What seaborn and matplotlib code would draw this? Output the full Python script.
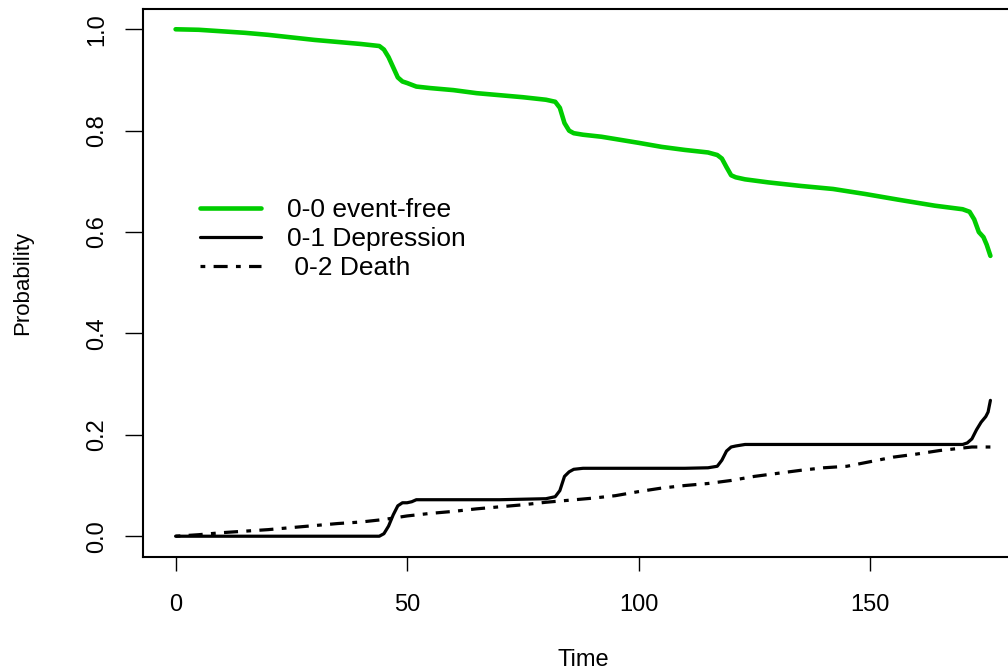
import matplotlib
matplotlib.use("Agg")
import matplotlib.pyplot as plt
import seaborn as sns
import pandas as pd
from matplotlib.lines import Line2D

# Transition probabilities from state 0 of an illness-death model
time_00 = [0, 5, 10, 15, 20, 25, 30, 35, 40, 44, 45, 46, 47, 48, 49, 50, 52, 55, 60, 65,
           70, 75, 80, 82, 83, 84, 85, 86, 88, 92, 96, 100, 105, 110, 115, 117, 118, 119,
           120, 121, 123, 128, 135, 142, 149, 156, 164, 170, 171.5, 172.5, 173.5, 174.5,
           175.2, 176]
prob_00 = [1.0, 0.999, 0.996, 0.993, 0.989, 0.984, 0.979, 0.975, 0.971, 0.967, 0.960, 0.945,
           0.925, 0.905, 0.897, 0.894, 0.887, 0.884, 0.880, 0.874, 0.870, 0.866, 0.861, 0.857,
           0.845, 0.815, 0.800, 0.795, 0.792, 0.788, 0.782, 0.776, 0.768, 0.762, 0.757, 0.752,
           0.745, 0.728, 0.712, 0.708, 0.704, 0.698, 0.691, 0.685, 0.675, 0.664, 0.652, 0.645,
           0.640, 0.625, 0.600, 0.590, 0.575, 0.553]

time_01 = [0, 44, 45, 46, 47, 48, 49, 50, 51, 52, 60, 70, 80, 82, 83, 84, 85, 86, 88, 100,
           110, 115, 117, 118, 119, 120, 121, 123, 130, 140, 150, 160, 170, 171, 172, 173,
           174, 175, 175.5, 176]
prob_01 = [0.0, 0.0, 0.005, 0.020, 0.042, 0.060, 0.066, 0.066, 0.068, 0.072, 0.072, 0.072,
           0.074, 0.078, 0.090, 0.118, 0.127, 0.132, 0.134, 0.134, 0.134, 0.135, 0.138, 0.150,
           0.168, 0.176, 0.178, 0.181, 0.181, 0.181, 0.181, 0.181, 0.181, 0.184, 0.192, 0.210,
           0.225, 0.236, 0.245, 0.268]

time_02 = [0, 5, 10, 15, 20, 25, 30, 35, 40, 45, 50, 55, 60, 65, 70, 75, 80, 85, 90, 95,
           100, 105, 110, 115, 120, 125, 130, 135, 140, 145, 150, 155, 160, 165, 170, 172, 176]
prob_02 = [0.0, 0.003, 0.007, 0.010, 0.013, 0.017, 0.021, 0.025, 0.028, 0.033, 0.040, 0.045,
           0.049, 0.054, 0.058, 0.062, 0.067, 0.071, 0.075, 0.080, 0.088, 0.095, 0.100, 0.104,
           0.110, 0.118, 0.124, 0.130, 0.135, 0.138, 0.147, 0.156, 0.162, 0.169, 0.174, 0.176,
           0.176]

labels = ["0-0 event-free", "0-1 Depression", " 0-2 Death"]
x_ticks = [0, 50, 100, 150]
y_ticks = [0.0, 0.2, 0.4, 0.6, 0.8, 1.0]
y_tick_labels = ["0.0", "0.2", "0.4", "0.6", "0.8", "1.0"]

sns.set_theme(style="ticks")
plt.rcParams["font.family"] = ["Liberation Sans", "DejaVu Sans"]
plt.rcParams["text.color"] = "black"
plt.rcParams["axes.labelcolor"] = "black"

df00 = pd.DataFrame({"Time": time_00, "Probability": prob_00})
df01 = pd.DataFrame({"Time": time_01, "Probability": prob_01})
df02 = pd.DataFrame({"Time": time_02, "Probability": prob_02})

fig = plt.figure(figsize=(10.08, 6.70), dpi=100)
ax = fig.add_axes([143 / 1008, 113.5 / 670, 880 / 1008, 547.5 / 670])

green = "#00cd00"
death_dashes = (1.5, 2.6, 4.4, 2.6)
sns.lineplot(data=df00, x="Time", y="Probability", ax=ax, color=green, lw=3.3,
             estimator=None, sort=False)
sns.lineplot(data=df01, x="Time", y="Probability", ax=ax, color="black", lw=2.3,
             estimator=None, sort=False)
sns.lineplot(data=df02, x="Time", y="Probability", ax=ax, color="black", lw=2.3,
             estimator=None, sort=False)
ax.lines[-1].set_dashes(death_dashes)

ax.set_xlim(-0.04 * 176, 176 * 1.04)
ax.set_ylim(-0.04, 1.04)
ax.set_xticks(x_ticks)
ax.set_xticklabels([str(v) for v in x_ticks])
ax.set_yticks(y_ticks)
ax.set_yticklabels(y_tick_labels, rotation=90, va="center")

for side in ["left", "bottom", "top", "right"]:
    ax.spines[side].set_visible(True)
    ax.spines[side].set_linewidth(1.5)
    ax.spines[side].set_color("black")

ax.tick_params(axis="y", length=13, width=1.0, pad=12, labelsize=17,
               colors="black", labelcolor="black")
ax.tick_params(axis="x", length=10, width=1.0, pad=17, labelsize=17,
               colors="black", labelcolor="black")

ax.set_xlabel("Time", fontsize=17, labelpad=24)
ax.set_ylabel("Probability", fontsize=16, labelpad=38)

handles = [
    Line2D([], [], color=green, lw=3.3),
    Line2D([], [], color="black", lw=2.3),
    Line2D([], [], color="black", lw=2.3, dashes=death_dashes),
]
ax.legend(handles, labels, loc="upper left", bbox_to_anchor=(0.065, 0.655),
          frameon=False, fontsize=19, handlelength=2.3, handletextpad=1.0,
          labelspacing=0.2, borderpad=0.0, borderaxespad=0.0)

fig.savefig("out.png", dpi=100)
